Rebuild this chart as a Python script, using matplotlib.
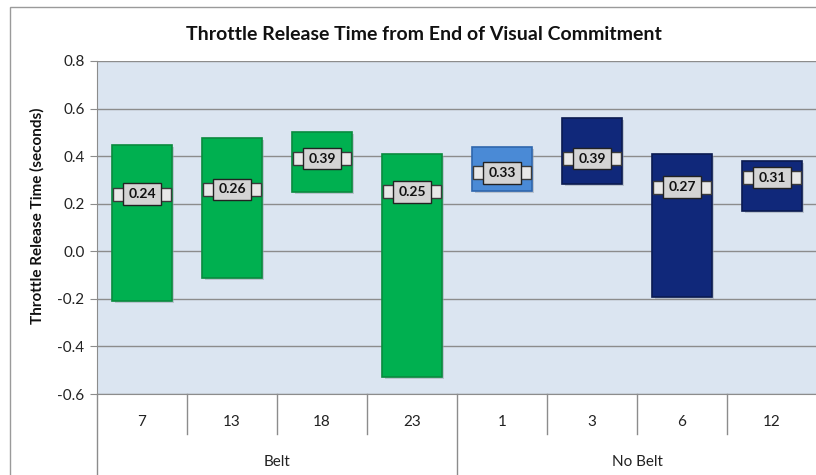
import matplotlib
matplotlib.use('Agg')
import matplotlib.pyplot as plt
from matplotlib.patches import Rectangle
import matplotlib.transforms as mtransforms

plt.rcParams['font.family'] = ['Lato', 'DejaVu Sans']

# data
subjects = ['7', '13', '18', '23', '1', '3', '6', '12']
groups = ['Belt', 'No Belt']
group_sizes = [4, 4]
upper = [0.446, 0.476, 0.503, 0.407, 0.437, 0.559, 0.408, 0.381]
lower = [-0.208, -0.111, 0.248, -0.528, 0.255, 0.282, -0.191, 0.171]
mid_vals = [0.24, 0.26, 0.39, 0.25, 0.33, 0.39, 0.27, 0.31]
colors = ['#00b050', '#00b050', '#00b050', '#00b050',
          '#4a8ad6', '#10287a', '#10287a', '#10287a']
edges = ['#0a8a3e', '#0a8a3e', '#0a8a3e', '#0a8a3e',
         '#2f66ad', '#0a1a50', '#0a1a50', '#0a1a50']

fig = plt.figure(figsize=(8.16, 4.75), dpi=100)
W, H = 816, 475
ax = fig.add_axes([97 / W, 1 - 394 / H, 720 / W, 333 / H])
ax.set_facecolor('#dbe5f1')

# outer chart border
fig.patches.append(Rectangle((10 / W, -0.1), 1.2, (475 - 7) / H + 0.1,
                             transform=fig.transFigure, fill=False,
                             edgecolor='#9a9a9a', linewidth=1))

x = list(range(len(subjects)))
bw = 0.66
for i in x:
    # soft shadow
    ax.bar(i + 0.03, upper[i] - lower[i], bottom=lower[i] - 0.008, width=bw,
           color='#9aa3ad', alpha=0.5, zorder=2)
    ax.bar(i, upper[i] - lower[i], bottom=lower[i], width=bw,
           color=colors[i], edgecolor=edges[i], linewidth=1.2, zorder=3)
    # slider bar and value box
    ax.bar(i, 0.055, bottom=mid_vals[i] - 0.0275, width=bw * 0.97,
           color='#e8e8e8', edgecolor='#3a3a3a', linewidth=1, zorder=4)
    ax.text(i, mid_vals[i], f'{mid_vals[i]:.2f}', ha='center', va='center',
            fontsize=10, fontweight='bold', color='#111111', zorder=5,
            bbox=dict(boxstyle='square,pad=0.35', facecolor='#d4d4d4',
                      edgecolor='#222222', linewidth=1))

ax.set_xlim(-0.5, len(subjects) - 0.5)
ax.set_ylim(-0.6, 0.8)
ax.set_yticks([-0.6, -0.4, -0.2, 0.0, 0.2, 0.4, 0.6, 0.8])
ax.set_yticklabels([f'{v:.1f}' for v in ax.get_yticks()], fontsize=11)
ax.yaxis.grid(True, color='#8c8c8c', linewidth=1)
ax.set_axisbelow(True)
ax.tick_params(axis='y', length=5, color='#8c8c8c', pad=4, labelcolor='#222222')
ax.set_xticks([])
for s in ['top', 'right']:
    ax.spines[s].set_visible(False)
ax.spines['left'].set_color('#8c8c8c')
ax.spines['bottom'].set_color('#8c8c8c')

# two-level category axis
trans = mtransforms.blended_transform_factory(ax.transData, ax.transAxes)
px = 1 / 333
for i, name in enumerate(subjects):
    ax.text(i, -28 * px, name, transform=trans, ha='center', va='center',
            fontsize=11, color='#222222')
for b in range(1, len(subjects)):
    if b != group_sizes[0]:
        ax.plot([b - 0.5, b - 0.5], [0, -40 * px], transform=trans,
                color='#8c8c8c', linewidth=1, clip_on=False)
ax.plot([-0.5, -0.5], [0, -90 * px], transform=trans, color='#8c8c8c',
        linewidth=1, clip_on=False)
start = 0
for g, n in zip(groups, group_sizes):
    ax.text(start + (n - 1) / 2, -68 * px, g, transform=trans, ha='center',
            va='center', fontsize=11, color='#222222')
    ax.plot([start + n - 0.5, start + n - 0.5], [0, -90 * px], transform=trans,
            color='#8c8c8c', linewidth=1, clip_on=False)
    start += n

fig.text(424 / W, 1 - 35 / H, 'Throttle Release Time from End of Visual Commitment',
         ha='center', va='center', fontsize=14, fontweight='bold', color='#111111')
fig.text(37 / W, 1 - 216 / H, 'Throttle Release Time (seconds)', rotation=90,
         ha='center', va='center', fontsize=11, fontweight='bold', color='#111111')

fig.savefig('out.png', dpi=100)
